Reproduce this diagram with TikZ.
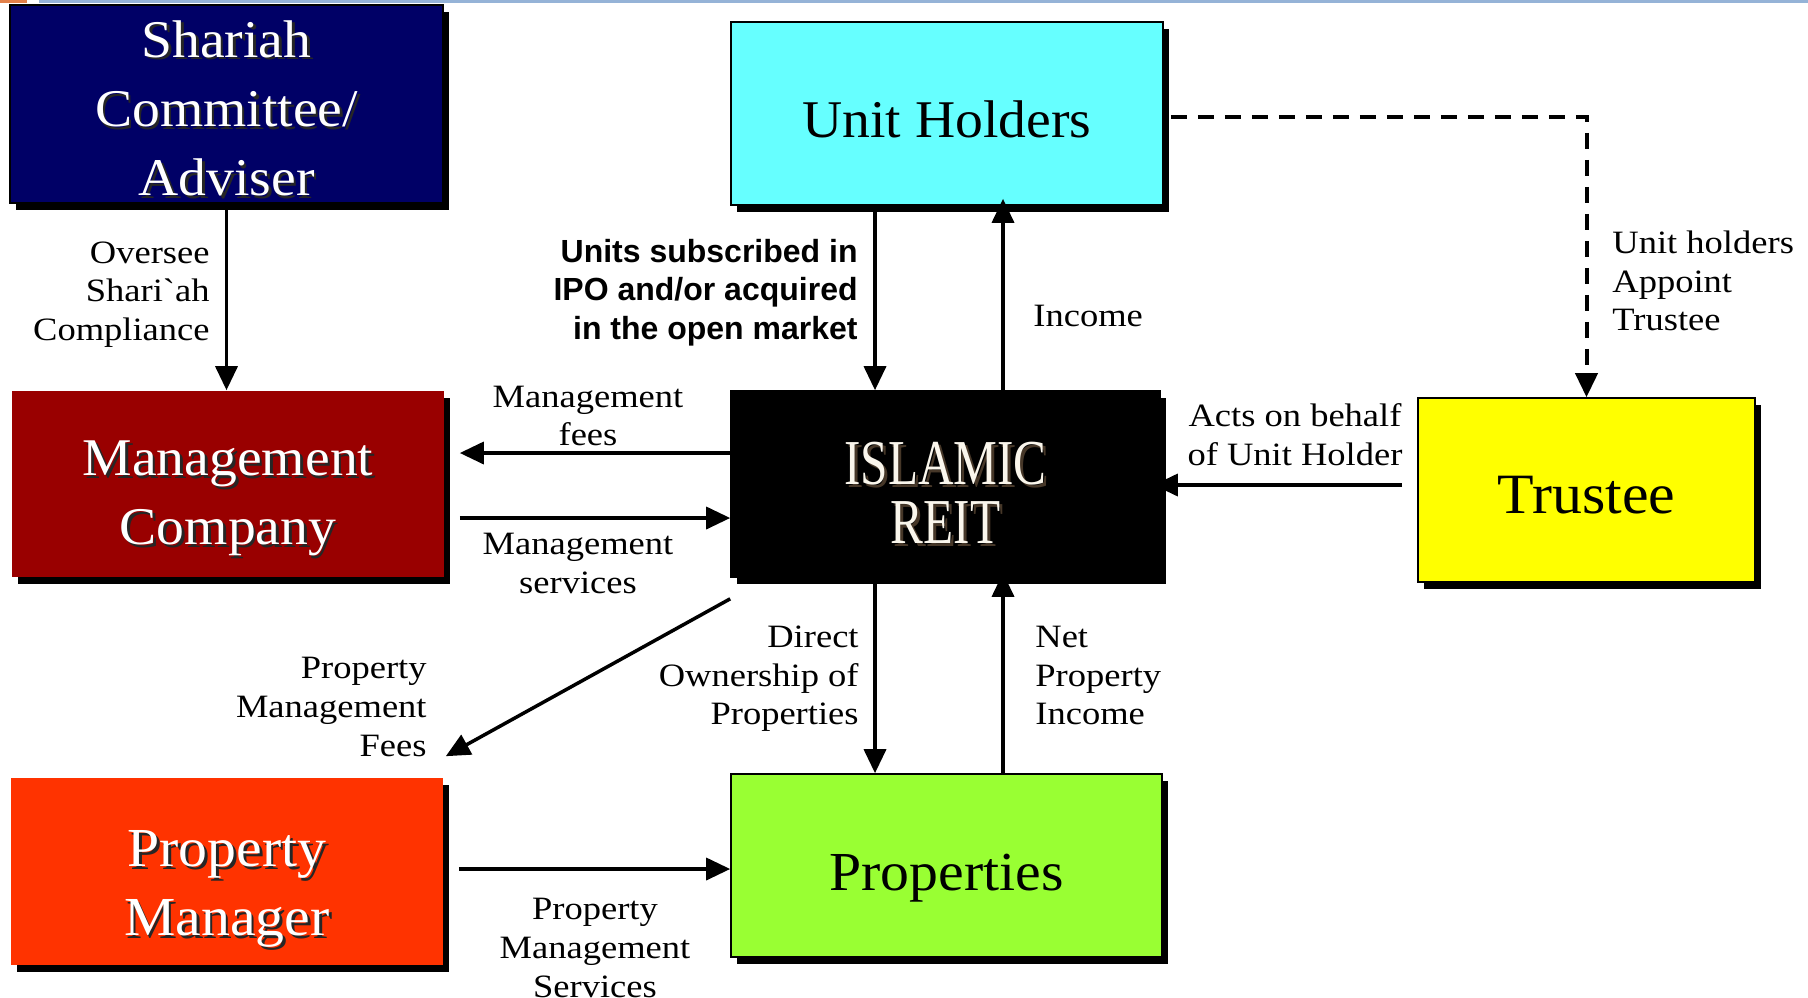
\documentclass[tikz,border=0pt]{standalone}
\usepackage{fontspec}
\setmainfont{Liberation Serif}[FakeStretch=1.05]
\newfontfamily\lblfont{Liberation Serif}[FakeStretch=1.12]
\newfontfamily\reitfont{Liberation Serif}[FakeStretch=0.77]
\newfontfamily\lsansfont{Liberation Sans}
\usetikzlibrary{arrows.meta,shadows}
\definecolor{navybox}{RGB}{0,0,102}
\definecolor{cyanbox}{RGB}{102,255,255}
\definecolor{redbox}{RGB}{153,0,0}
\definecolor{yellowbox}{RGB}{255,255,0}
\definecolor{orangebox}{RGB}{255,51,0}
\definecolor{greenbox}{RGB}{153,255,51}
\definecolor{reitwhite}{RGB}{250,246,236}
\definecolor{reitshade}{RGB}{70,55,40}
\definecolor{topblue}{RGB}{149,179,215}
\definecolor{toporange}{RGB}{226,128,74}
\newcommand\shw[1]{\leavevmode\rlap{\kern1.3pt\raisebox{-1.3pt}{\textcolor{black!85}{#1}}}#1}
\newcommand\shr[1]{\leavevmode\rlap{\kern1.5pt\raisebox{-1.5pt}{\textcolor{reitshade}{#1}}}#1}
\newcommand\btext[2]{\raisebox{\dimexpr-0.25em-#1\relax}[0pt][0pt]{\begin{tabular}{@{}c@{}}#2\end{tabular}}}
\tikzset{
  box/.style={draw=black, line width=0.8pt, inner sep=0pt, align=center,
    drop shadow={shadow xshift=3pt, shadow yshift=-3.5pt, fill=black, opacity=1},
    font=\fontsize{26.5}{34.7}\selectfont},
  lbl/.style={inner sep=0pt, font={\lblfont\fontsize{16.3}{19.3}\selectfont}},
  arr/.style={line width=1.75pt, -{Triangle[length=12pt,width=11pt]}}
}
\begin{document}
\begin{tikzpicture}[x=0.5pt,y=-0.5pt]
\useasboundingbox (0,0) rectangle (1808,997);
\fill[toporange] (0,0) rectangle (27,3);
\fill[topblue] (39,0) rectangle (1808,3);

% boxes
\node[box, fill=navybox, text=white, minimum width=216.5pt, minimum height=99pt] (sc) at (226.5,104) {\btext{3.9pt}{\shw{Shariah}\\\shw{Committee/}\\\shw{Adviser}}};
\node[box, fill=cyanbox, minimum width=216pt, minimum height=91.5pt] (uh) at (947,113.5) {\btext{4.9pt}{Unit Holders}};
\node[box, draw=none, fill=redbox, text=white, minimum width=216pt, minimum height=93pt] (mc) at (228,484) {\btext{5.7pt}{\shw{Management}\\\shw{Company}}};
\node[box, fill=black, text=reitwhite, minimum width=214.5pt, minimum height=93pt, font=\reitfont\fontsize{32}{28.8}\selectfont] (reit) at (945.5,484) {\btext{7.1pt}{\shr{ISLAMIC}\\\shr{REIT}}};
\node[box, fill=yellowbox, minimum width=168.5pt, minimum height=92pt, font=\fontsize{28.5}{34.7}\selectfont] (tr) at (1586.5,490) {\btext{4pt}{Trustee}};
\node[box, draw=none, fill=orangebox, text=white, minimum width=216pt, minimum height=93.5pt, font=\fontsize{27.5}{34.7}\selectfont] (pm) at (227,871.5) {\btext{7.2pt}{\shw{Property}\\\shw{Manager}}};
\node[box, fill=greenbox, minimum width=215.5pt, minimum height=91.5pt, font=\fontsize{27.5}{34.7}\selectfont] (pr) at (946.5,865.5) {\btext{4.9pt}{Properties}};

% helper coordinates
\coordinate (xa) at (875,0);
\coordinate (xb) at (1003,0);
\coordinate (ya) at (0,453);
\coordinate (yb) at (0,518);
\coordinate (yc) at (0,485);
\coordinate (yd) at (0,869);

% connectors
\draw[arr] (sc.south) -- (sc.south |- mc.north);
\draw[arr] (uh.south -| xa) -- (reit.north -| xa);
\draw[arr, shorten >=-3.5pt] (reit.north -| xb) -- (uh.south -| xb);
\draw[arr, line width=2pt, dashed, dash pattern=on 8pt off 5.5pt] ([xshift=3.5pt,yshift=-1.5pt]uh.east) -| (tr.north);
\draw[arr, shorten >=7.5pt] (reit.west |- ya) -- (mc.east |- ya);
\draw[arr, shorten <=7.5pt] (mc.east |- yb) -- (reit.west |- yb);
\draw[arr, shorten <=7.5pt, shorten >=-3.5pt] (tr.west |- yc) -- (reit.east |- yc);
\draw[arr] ([yshift=-10.5pt]reit.south west) -- ([xshift=1pt,yshift=10.5pt]pm.north east);
\draw[arr] (reit.south -| xa) -- (pr.north -| xa);
\draw[arr, shorten >=-2.5pt] (pr.north -| xb) -- (reit.south -| xb);
\draw[arr, shorten <=7.5pt] (pm.east |- yd) -- (pr.west |- yd);

% labels
\node[lbl, anchor=east, align=right] (l1) at (210,294.6) {Oversee\\Shari`ah\\Compliance};
\node[lbl, anchor=east, align=right, font={\lsansfont\bfseries\fontsize{16}{19.3}\selectfont}] (l2) at (858,292.5) {Units subscribed in\\IPO and/or acquired\\in the open market};
\node[lbl, anchor=west] (l3) at (1033,316) {Income};
\node[lbl, anchor=west, align=left] (l4) at (1612,281) {Unit holders\\Appoint\\Trustee};
\node[lbl, align=center] (l5) at (588,416) {Management\\fees};
\node[lbl, align=center] (l6) at (1295,434.5) {Acts on behalf\\of Unit Holder};
\node[lbl, align=center] (l7) at (578,563.5) {Management\\services};
\node[lbl, anchor=east, align=right] (l8) at (427,707) {Property\\Management\\Fees};
\node[lbl, anchor=east, align=right] (l9) at (859,679) {Direct\\Ownership of\\Properties};
\node[lbl, anchor=west, align=left] (l10) at (1035,675.5) {Net\\Property\\Income};
\node[lbl, align=center] (l11) at (595,948) {Property\\Management\\Services};
\end{tikzpicture}
\end{document}
